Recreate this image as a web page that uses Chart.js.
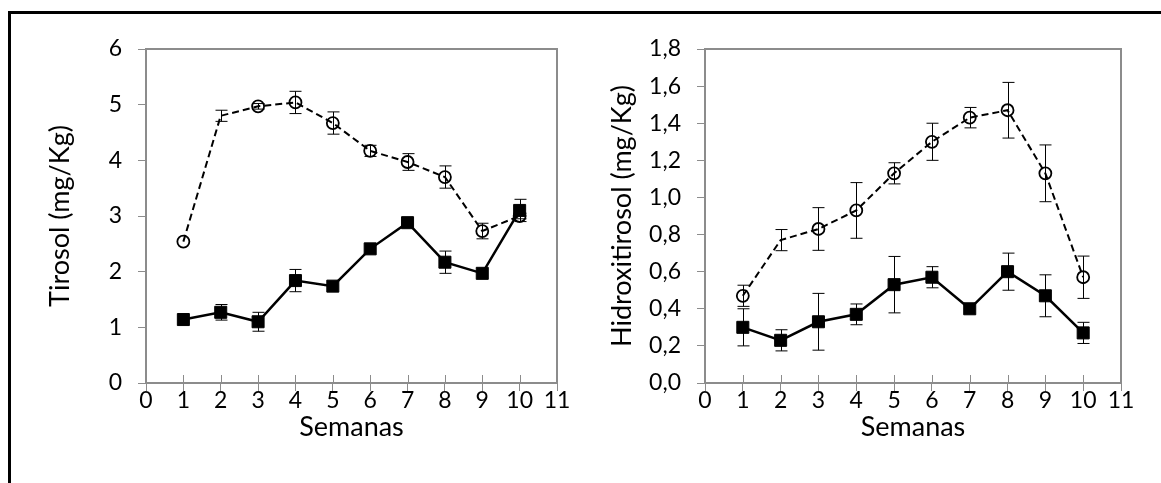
<!DOCTYPE html>
<html>
<head>
<meta charset="utf-8">
<script src="https://cdn.jsdelivr.net/npm/chart.js@4.4.0/dist/chart.umd.min.js"></script>
<style>
html, body { margin: 0; padding: 0; background: #fff; }
body { width: 1161px; height: 483px; position: relative; overflow: hidden; }
#marco { position: absolute; left: 8px; top: 11px; width: 1200px; height: 520px; border-left: 3px solid #000; border-top: 3px solid #000; }
.caja { position: absolute; top: 0; height: 483px; }
</style>
</head>
<body>
<div id="marco"></div>
<div class="caja" style="left:0;width:580px"><canvas id="g1"></canvas></div>
<div class="caja" style="left:580px;width:581px"><canvas id="g2"></canvas></div>
<script>
// datos
const semanas = [1, 2, 3, 4, 5, 6, 7, 8, 9, 10];
const ticksSemanas = [0, 1, 2, 3, 4, 5, 6, 7, 8, 9, 10, 11];

const tirosolCuadrado = [1.14, 1.27, 1.10, 1.84, 1.74, 2.41, 2.88, 2.17, 1.97, 3.10];
const tirosolCuadradoErr = [0, 0.14, 0.17, 0.20, 0, 0, 0, 0.20, 0, 0.20];
const tirosolCirculo = [2.54, 4.80, 4.97, 5.04, 4.67, 4.17, 3.97, 3.70, 2.73, 3.00];
const tirosolCirculoErr = [0, 0.10, 0.05, 0.20, 0.20, 0.10, 0.15, 0.20, 0.14, 0.05];
const ticksTirosol = [0, 1, 2, 3, 4, 5, 6];

const hidroxiCuadrado = [0.30, 0.23, 0.33, 0.37, 0.53, 0.57, 0.40, 0.60, 0.47, 0.27];
const hidroxiCuadradoErr = [0.10, 0.057, 0.153, 0.056, 0.152, 0.057, 0, 0.10, 0.113, 0.057];
const hidroxiCirculo = [0.47, 0.77, 0.83, 0.93, 1.13, 1.30, 1.43, 1.47, 1.13, 0.57];
const hidroxiCirculoErr = [0.057, 0.057, 0.115, 0.15, 0.057, 0.10, 0.055, 0.15, 0.153, 0.114];
const ticksHidroxi = [0, 0.2, 0.4, 0.6, 0.8, 1.0, 1.2, 1.4, 1.6, 1.8];

const fuente = "Lato";
const gris = "#8c8c8c";

const barrasError = {
    id: "barrasError",
    beforeDatasetsDraw(chart) {
        const { ctx, chartArea, scales } = chart;
        ctx.save();
        ctx.strokeStyle = gris;
        ctx.lineWidth = 1;
        // marcas del eje x hacia dentro
        scales.x.ticks.forEach(t => {
            const px = Math.round(scales.x.getPixelForValue(t.value)) + 0.5;
            ctx.beginPath();
            ctx.moveTo(px, chartArea.bottom);
            ctx.lineTo(px, chartArea.bottom - 8);
            ctx.stroke();
        });
        ctx.lineWidth = 2;
        ctx.strokeRect(chartArea.left, chartArea.top, chartArea.width, chartArea.height);
        ctx.restore();
    },
    afterDatasetsDraw(chart) {
        const { ctx, scales: { x, y } } = chart;
        ctx.save();
        ctx.strokeStyle = "#000";
        ctx.lineWidth = 1;
        chart.data.datasets.forEach(ds => {
            ds.data.forEach((p, i) => {
                const e = ds.errores[i];
                if (!e) return;
                const px = Math.round(x.getPixelForValue(p.x)) + 0.5;
                const y1 = y.getPixelForValue(p.y + e);
                const y2 = y.getPixelForValue(p.y - e);
                ctx.beginPath();
                ctx.moveTo(px, y1); ctx.lineTo(px, y2);
                ctx.moveTo(px - 6, y1); ctx.lineTo(px + 6, y1);
                ctx.moveTo(px - 6, y2); ctx.lineTo(px + 6, y2);
                ctx.stroke();
            });
        });
        ctx.restore();
    }
};

function puntos(valores) {
    return semanas.map((s, i) => ({ x: s, y: valores[i] }));
}

function crearGrafico(canvas, cfg) {
    return new Chart(canvas, {
        type: "line",
        data: {
            datasets: [
                {
                    data: puntos(cfg.cuadrado),
                    errores: cfg.cuadradoErr,
                    borderColor: "#000",
                    borderWidth: 2.5,
                    pointStyle: "rect",
                    pointRadius: 8.5,
                    pointBackgroundColor: "#000",
                    pointBorderColor: "#000",
                    pointBorderWidth: 1,
                    tension: 0
                },
                {
                    data: puntos(cfg.circulo),
                    errores: cfg.circuloErr,
                    borderColor: "#000",
                    borderWidth: 2,
                    borderDash: [7, 4],
                    pointStyle: "circle",
                    pointRadius: c => c.dataIndex === 1 ? 0 : 6,
                    pointBackgroundColor: "rgba(0,0,0,0)",
                    pointBorderColor: "#000",
                    pointBorderWidth: 1.8,
                    tension: 0
                }
            ]
        },
        options: {
            responsive: true,
            maintainAspectRatio: false,
            animation: false,
            events: [],
            layout: { padding: { left: 0, top: 49, right: cfg.derecha, bottom: 0 } },
            plugins: { legend: { display: false }, tooltip: { enabled: false } },
            scales: {
                x: {
                    type: "linear",
                    min: 0,
                    max: 11,
                    afterBuildTicks: s => { s.ticks = ticksSemanas.map(v => ({ value: v })); },
                    afterFit: s => { s.height = 100; },
                    border: { display: false },
                    grid: { drawOnChartArea: false, tickLength: 8, color: gris },
                    ticks: { padding: -4, color: "#000", font: { family: fuente, size: 23 }, maxRotation: 0 },
                    title: { display: true, text: "Semanas", color: "#000", font: { family: fuente, size: 27 }, padding: { top: 0, bottom: 40 } }
                },
                y: {
                    type: "linear",
                    min: 0,
                    max: cfg.maxY,
                    afterBuildTicks: s => { s.ticks = cfg.ticksY.map(v => ({ value: v })); },
                    afterFit: s => { s.width = cfg.anchoY; },
                    border: { display: false },
                    grid: { drawOnChartArea: false, tickLength: 8, color: gris },
                    ticks: {
                        padding: 16,
                        color: "#000",
                        font: { family: fuente, size: 23 },
                        callback: v => cfg.decimales ? v.toFixed(1).replace(".", ",") : String(v)
                    },
                    title: { display: true, text: cfg.tituloY, color: "#000", font: { family: fuente, size: 27 }, padding: { top: cfg.tituloPad, bottom: 0 } }
                }
            }
        },
        plugins: [barrasError]
    });
}

crearGrafico(document.getElementById("g1"), {
    cuadrado: tirosolCuadrado, cuadradoErr: tirosolCuadradoErr,
    circulo: tirosolCirculo, circuloErr: tirosolCirculoErr,
    ticksY: ticksTirosol, maxY: 6, decimales: false,
    tituloY: "Tirosol (mg/Kg)", tituloPad: 44, anchoY: 146, derecha: 23
});

crearGrafico(document.getElementById("g2"), {
    cuadrado: hidroxiCuadrado, cuadradoErr: hidroxiCuadradoErr,
    circulo: hidroxiCirculo, circuloErr: hidroxiCirculoErr,
    ticksY: ticksHidroxi, maxY: 1.8, decimales: true,
    tituloY: "Hidroxitirosol (mg/Kg)", tituloPad: 26, anchoY: 125, derecha: 40
});
</script>
</body>
</html>
